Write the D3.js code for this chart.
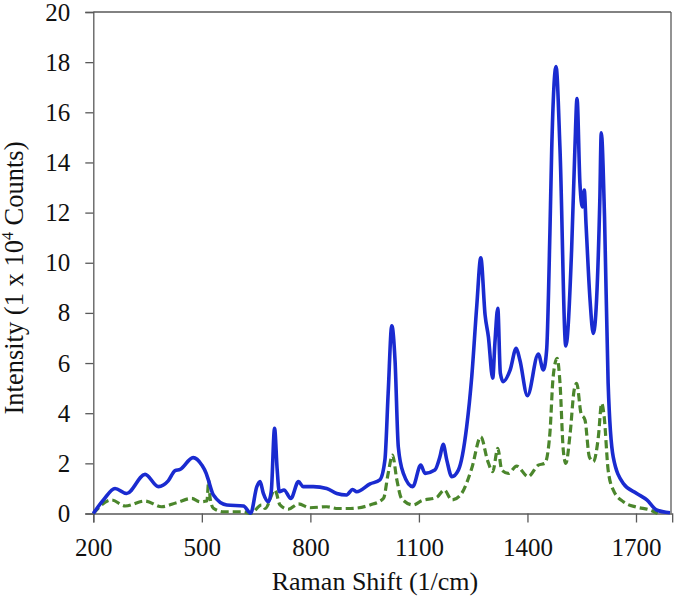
<!DOCTYPE html>
<html>
<head>
<meta charset="utf-8">
<script src="https://cdn.jsdelivr.net/npm/d3@7"></script>
<style>
  body { margin: 0; background: #fff; }
  svg { display: block; }
</style>
</head>
<body>
<div id="chart"></div>
<script>
// Raman shift (1/cm) and intensity (x10^4 counts)
const blueShift = [200, 228, 260, 292, 343, 380, 407, 426, 440, 476, 500, 512, 518, 532, 569, 615, 635, 652, 661, 670, 684, 692, 701, 708, 714, 727, 746, 767, 780, 808, 845, 873, 900, 917, 928, 965, 992, 1006, 1015, 1025, 1034, 1043, 1057, 1083, 1105, 1117, 1144, 1158, 1167, 1177, 1191, 1209, 1232, 1246, 1260, 1271, 1283, 1292, 1304, 1310, 1318, 1325, 1333, 1352, 1369, 1379, 1400, 1430, 1444, 1453, 1462, 1467, 1479, 1490, 1506, 1522, 1531, 1537, 1545, 1552, 1557, 1562, 1573, 1582, 1591, 1600, 1604, 1613, 1623, 1637, 1665, 1702, 1730, 1757, 1794];
const blueValue = [0, 0.54, 1.0, 0.8, 1.56, 1.07, 1.3, 1.71, 1.76, 2.23, 1.93, 1.6, 1.34, 0.74, 0.34, 0.30, 0.01, 1.07, 1.27, 0.8, 0.47, 0.9, 3.4, 1.8, 0.87, 0.94, 0.6, 1.27, 1.07, 1.07, 1.0, 0.8, 0.74, 0.96, 0.87, 1.18, 1.34, 2.13, 4.8, 7.49, 6.1, 2.66, 1.6, 1.07, 1.93, 1.6, 1.73, 2.26, 2.76, 2.13, 1.47, 1.73, 3.46, 5.45, 8.3, 10.2, 7.9, 7.05, 5.4, 6.79, 8.18, 5.6, 5.26, 5.72, 6.59, 6.12, 4.7, 6.36, 5.72, 6.52, 11.17, 14.5, 17.82, 14.5, 6.68, 10.5, 14.5, 16.55, 13.17, 12.23, 12.9, 11.5, 8.51, 7.18, 8.51, 12.5, 15.18, 11.83, 5.19, 2.26, 1.2, 0.8, 0.54, 0.14, 0.03];

const greenShift = [200, 251, 288, 343, 389, 430, 472, 495, 514, 519, 523, 532, 560, 615, 635, 665, 675, 702, 716, 739, 767, 799, 845, 876, 910, 965, 1002, 1015, 1027, 1039, 1052, 1084, 1108, 1149, 1170, 1191, 1218, 1246, 1271, 1290, 1304, 1318, 1329, 1347, 1370, 1402, 1430, 1448, 1462, 1471, 1482, 1490, 1499, 1506, 1518, 1529, 1536, 1548, 1559, 1571, 1582, 1596, 1605, 1612, 1623, 1637, 1665, 1702, 1739, 1760];
const greenValue = [0, 0.54, 0.3, 0.5, 0.27, 0.43, 0.6, 0.47, 0.5, 1.3, 0.6, 0.21, 0.07, 0.07, 0, 0.34, 0.2, 0.94, 0.34, 0.17, 0.38, 0.23, 0.27, 0.2, 0.2, 0.34, 0.6, 1.6, 2.33, 1.34, 0.6, 0.34, 0.51, 0.64, 0.94, 0.54, 0.8, 1.8, 3.06, 2.1, 1.67, 2.6, 1.73, 1.6, 1.89, 1.47, 1.93, 2.0, 3.2, 5.45, 6.19, 5.19, 2.53, 2.0, 3.2, 4.92, 5.19, 4.0, 3.73, 2.26, 2.07, 3.06, 4.39, 3.86, 1.73, 0.94, 0.47, 0.25, 0.14, 0];

const xTicks = [200, 500, 800, 1100, 1400, 1700];
const yTicks = [0, 2, 4, 6, 8, 10, 12, 14, 16, 18, 20];

const W = 675, H = 601;
const plotLeft = 93.3, plotRight = 671, plotTop = 12, plotBottom = 513.5;
const FONT = "'Liberation Serif', 'Times New Roman', 'DejaVu Serif', serif";

let svg = d3.select("#chart").append("svg")
    .attr("width", W)
    .attr("height", H)
    .style("font-family", FONT);

const x = d3.scaleLinear().domain([200, 1800]).range([plotLeft, plotLeft + 1600 * (542.7 / 1500)]);
const y = d3.scaleLinear().domain([0, 20]).range([plotBottom, plotTop]);

const axisColor = "#595959";

// frame on top and right
svg.append("line")
    .attr("x1", plotLeft).attr("x2", plotRight)
    .attr("y1", plotTop).attr("y2", plotTop)
    .attr("stroke", axisColor).attr("stroke-width", 1.3);
svg.append("line")
    .attr("x1", plotRight).attr("x2", plotRight)
    .attr("y1", plotTop).attr("y2", plotBottom)
    .attr("stroke", axisColor).attr("stroke-width", 1.3);

// y axis
let gy = svg.append("g")
    .attr("transform", `translate(${plotLeft},0)`)
    .call(d3.axisLeft(y).tickValues(yTicks).tickSize(8).tickPadding(15));
gy.attr("font-family", null).attr("font-size", null);
gy.selectAll("text").style("font-family", FONT).style("font-size", "25px");

// x axis
let gx = svg.append("g")
    .attr("transform", `translate(0,${plotBottom})`)
    .call(d3.axisBottom(x).tickValues(xTicks).tickSize(9).tickFormat(d3.format("d")));
gx.attr("font-family", null).attr("font-size", null);
gx.selectAll("text")
    .style("font-family", FONT)
    .style("font-size", "25px")
    .attr("dy", null)
    .attr("y", 42);

svg.selectAll(".domain, .tick line").attr("stroke", axisColor).attr("stroke-width", 1.3);
svg.selectAll(".tick text").attr("fill", "#111");

// series
const line = d3.line()
    .x(d => x(d[0]))
    .y(d => y(d[1]))
    .curve(d3.curveMonotoneX);

svg.append("path")
    .datum(greenShift.map((s, i) => [s, greenValue[i]]))
    .attr("d", line)
    .attr("fill", "none")
    .attr("stroke", "#4b862c")
    .attr("stroke-width", 3.2)
    .attr("stroke-dasharray", "8,4");

svg.append("path")
    .datum(blueShift.map((s, i) => [s, blueValue[i]]))
    .attr("d", line)
    .attr("fill", "none")
    .attr("stroke", "#1a2bd0")
    .attr("stroke-width", 3.6)
    .attr("stroke-linejoin", "round");

// axis titles
svg.append("text")
    .attr("x", 375)
    .attr("y", 590)
    .attr("text-anchor", "middle")
    .attr("fill", "#111")
    .style("font-family", FONT)
    .style("font-size", "26px")
    .text("Raman Shift (1/cm)");

let yt = svg.append("text")
    .attr("transform", "translate(23,278) rotate(-90)")
    .attr("text-anchor", "middle")
    .attr("fill", "#111")
    .style("font-family", FONT)
    .style("font-size", "26.5px");
yt.append("tspan").text("Intensity (1 x 10");
yt.append("tspan").style("font-size", "16px").attr("dy", -10).text("4");
yt.append("tspan").attr("dy", 10).text(" Counts)");
</script>
</body>
</html>
